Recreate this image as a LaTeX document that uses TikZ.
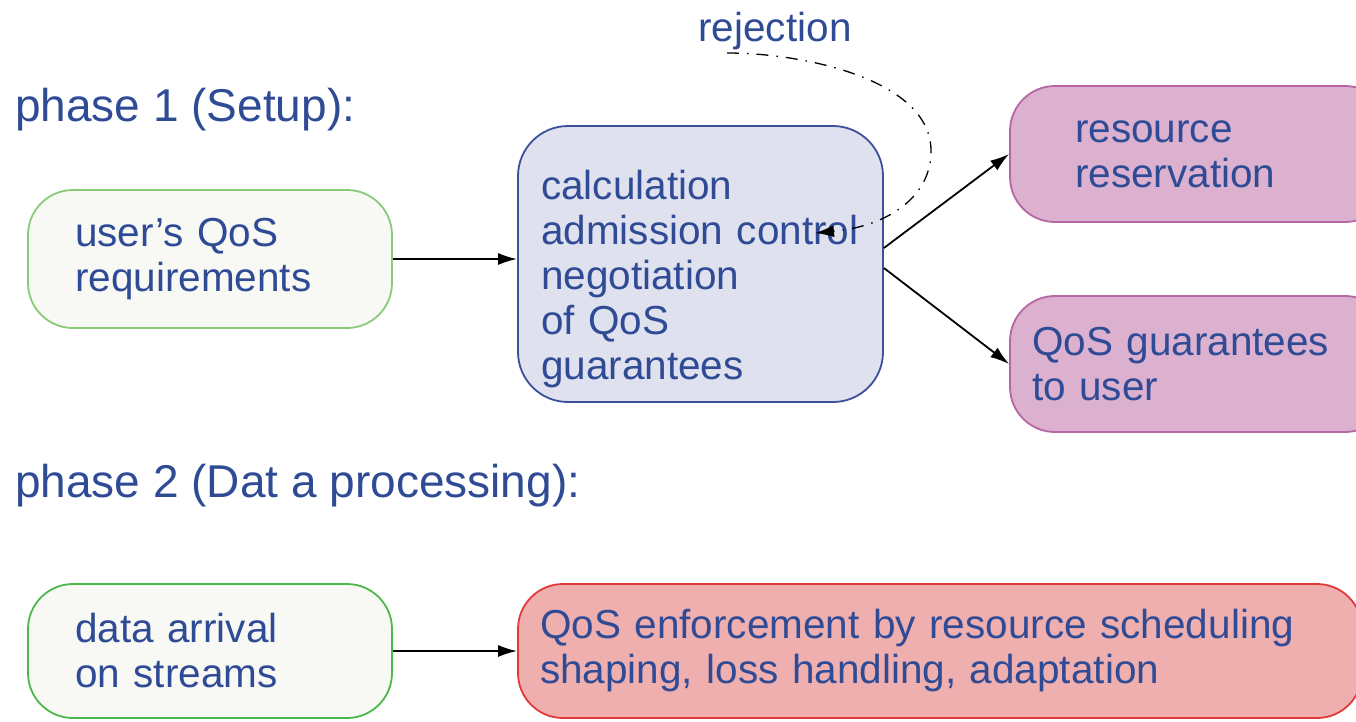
\documentclass[tikz,border=0pt]{standalone}
\usepackage{fontspec}
\setmainfont{Liberation Sans}
\usetikzlibrary{arrows.meta}
\definecolor{txt}{HTML}{2F4B95}
\definecolor{grnA}{HTML}{8ACB7A}
\definecolor{grnB}{HTML}{4CB84A}
\definecolor{grnfill}{HTML}{F8F9F4}
\definecolor{bluefill}{HTML}{DFE1EE}
\definecolor{blueline}{HTML}{3B4F9C}
\definecolor{pinkfill}{HTML}{DBB1CF}
\definecolor{pinkline}{HTML}{B765A3}
\definecolor{redfill}{HTML}{EFAFAF}
\definecolor{redline}{HTML}{E23A3A}
\tikzset{
  boxtext/.style={font=\fontsize{40.5}{45}\selectfont, text=txt, align=left},
  qbox/.style={boxtext, rectangle, rounded corners=45pt, line width=1.8pt, inner ysep=0pt},
  phaselabel/.style={font=\fontsize{46}{50}\selectfont, text=txt, anchor=west, inner sep=0pt},
  conn/.style={line width=1.8pt, -{Latex[length=19pt,width=12pt]}},
  rejline/.style={line width=1.3pt, dash pattern=on 12pt off 8pt on 1.5pt off 8pt, -{Latex[length=19pt,width=12pt]}}
}
\begin{document}
\begin{tikzpicture}[x=1pt,y=-1pt]
\useasboundingbox (0,0) rectangle (1356,721);
\clip (0,0) rectangle (1356,721);

\node[phaselabel] (ph1) at (15,110) {phase 1 (Setup):};
\node[phaselabel] (ph2) at (15,486) {phase 2 (Dat a processing):};
\node[boxtext, inner sep=0pt] (rejlbl) at (775,31) {rejection};

\node[qbox, draw=grnA, fill=grnfill, inner xsep=47pt, text width=270pt, minimum height=138pt] (req) at (210,259) {user's QoS\\requirements};
\node[qbox, draw=blueline, fill=bluefill, rounded corners=50pt, inner xsep=23pt, text width=319pt, minimum height=276pt] (calc) at (700.5,264) {\hyphenpenalty=10000\rule{0pt}{59pt}calculation\\admission control\\negotiation\\of QoS\\guarantees};
\node[qbox, draw=pinkline, fill=pinkfill, inner xsep=65pt, text width=250pt, minimum height=136pt] (resv) at (1200,154) {resource\\reservation};
\node[qbox, draw=pinkline, fill=pinkfill, inner xsep=22pt, text width=336pt, minimum height=136pt] (guar) at (1200,364) {QoS guarantees\\to user};
\node[qbox, draw=grnB, fill=grnfill, inner xsep=47pt, text width=270pt, minimum height=134pt] (arr) at (210,651) {data arrival\\on streams};
\node[qbox, draw=redline, fill=redfill, inner xsep=22pt, text width=800pt, minimum height=134pt] (enf) at (940,651) {QoS enforcement by resource scheduling\\shaping, loss handling, adaptation};

\draw[conn] (req.east) -- (req.east -| calc.west);
\draw[conn] ([yshift=16pt]calc.east) -- (resv.west);
\draw[conn] ([yshift=-4pt]calc.east) -- (guar.west);
\draw[conn] (arr.east) -- (enf.west);

\coordinate (rejstart) at (727,53);
\coordinate (rejend) at (815,233);
\draw[rejline] (rejstart) .. controls (805,53) and (930,80) .. (931,150) .. controls (932,195) and (890,226) .. (rejend);
\end{tikzpicture}
\end{document}
